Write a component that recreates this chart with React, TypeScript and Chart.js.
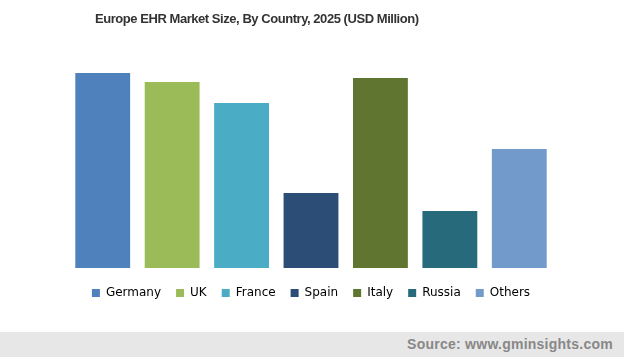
import React, { useEffect, useRef } from "react";
import { Chart, registerables } from "chart.js";

Chart.register(...registerables);

const categories = ["Germany", "UK", "France", "Spain", "Italy", "Russia", "Others"];
const values = [975, 930, 825, 375, 950, 285, 595];
const colors = ["#4f81bd", "#9bbb59", "#4bacc6", "#2c4d75", "#5f7530", "#276a7c", "#729aca"];
const titleText = "Europe EHR Market Size, By Country, 2025 (USD Million)";
const sourceText = "Source: www.gminsights.com";

export default function App() {
  const ref = useRef<HTMLCanvasElement>(null);
  useEffect(() => {
    document.body.style.margin = "0";
    const chart = new Chart(ref.current!, {
      type: "bar",
      data: {
        labels: categories,
        datasets: [
          {
            data: values,
            backgroundColor: colors,
            borderWidth: 0,
            barPercentage: 1,
            categoryPercentage: 0.79,
          },
        ],
      },
      options: {
        animation: false,
        responsive: false,
        layout: { padding: { left: 68, right: 70, top: 68, bottom: 23 } },
        scales: {
          x: {
            display: true,
            grid: { display: false, drawTicks: false },
            border: { display: false },
            ticks: { display: false },
            title: {
              display: true,
              text: " ",
              color: "transparent",
              font: { size: 4, lineHeight: 1 },
              padding: 0,
            },
          },
          y: { display: false, min: 0, max: 1000 },
        },
        plugins: {
          tooltip: { enabled: false },
          title: { display: false },
          legend: {
            position: "bottom",
            labels: {
              boxWidth: 8,
              boxHeight: 8,
              padding: 15,
              color: "#595959",
              font: { family: "DejaVu Sans", size: 12 },
              generateLabels: () =>
                categories.map((c, i) => ({
                  text: c,
                  fillStyle: colors[i],
                  strokeStyle: colors[i],
                  lineWidth: 0,
                  hidden: false,
                  index: i,
                  datasetIndex: 0,
                })),
            },
          },
        },
      },
    });
    return () => chart.destroy();
  }, []);

  return (
    <div style={{ position: "relative", width: 624, height: 357, background: "#fff", overflow: "hidden" }}>
      <canvas ref={ref} width={624} height={332} style={{ display: "block" }} />
      <div
        style={{
          position: "absolute",
          left: 95,
          top: 11,
          font: "bold 13px 'Liberation Sans', Arial, sans-serif",
          letterSpacing: "-0.45px",
          color: "#333",
          whiteSpace: "nowrap",
        }}
      >
        {titleText}
      </div>
      <div
        style={{
          position: "absolute",
          left: 0,
          top: 332,
          width: 624,
          height: 25,
          background: "#e7e7e7",
          font: "bold 14px 'Liberation Sans', Arial, sans-serif",
          letterSpacing: "0.25px",
          color: "#888",
          textAlign: "right",
          lineHeight: "25px",
          boxSizing: "border-box",
          paddingRight: 11,
          whiteSpace: "nowrap",
        }}
      >
        {sourceText}
      </div>
    </div>
  );
}
